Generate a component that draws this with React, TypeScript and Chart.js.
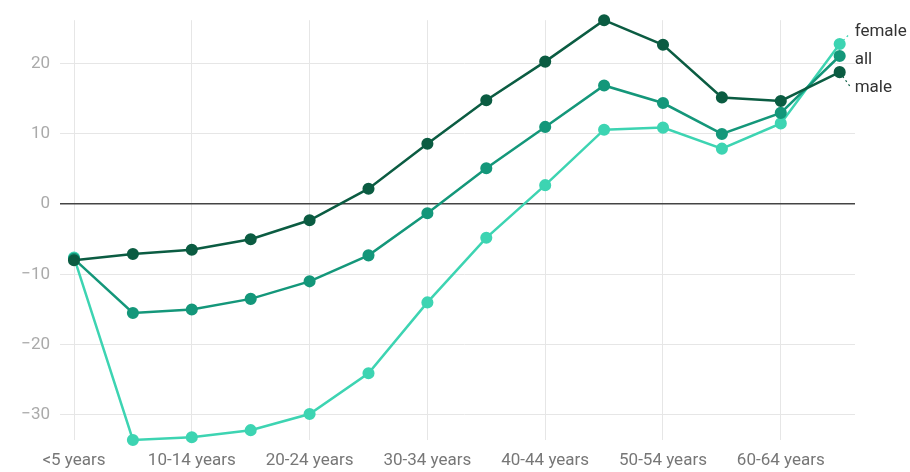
import React, { useEffect, useRef } from "react";
import { Chart, registerables } from "chart.js";

Chart.register(...registerables);

const categories = [
  "<5 years", "5-9 years", "10-14 years", "15-19 years", "20-24 years", "25-29 years",
  "30-34 years", "35-39 years", "40-44 years", "45-49 years", "50-54 years", "55-59 years",
  "60-64 years", "65+ years",
];
const maleValues = [-8.0, -7.1, -6.5, -5.0, -2.3, 2.2, 8.6, 14.8, 20.3, 26.2, 22.7, 15.2, 14.7, 18.8];
const allValues = [-7.8, -15.5, -15.0, -13.5, -11.0, -7.3, -1.3, 5.1, 11.0, 16.9, 14.4, 10.0, 13.0, 21.1];
const femaleValues = [-7.6, -33.6, -33.2, -32.2, -29.9, -24.1, -14.0, -4.8, 2.7, 10.6, 10.9, 7.9, 11.5, 22.8];
const seriesNames = ["male", "all", "female"];
const seriesColors = ["#0b5c42", "#14977a", "#3dd4b2"];
const yTickStep = 10;
const xLabelStep = 2;

const endLabels = {
  id: "endLabels",
  afterDatasetsDraw(chart: any) {
    const ctx = chart.ctx;
    const items = chart.data.datasets.map((ds: any, i: number) => {
      const meta = chart.getDatasetMeta(i);
      const pt = meta.data[meta.data.length - 1];
      return { name: ds.label, color: ds.borderColor, x: pt.x, y: pt.y, ly: pt.y };
    });
    items.sort((a: any, b: any) => a.y - b.y);
    const gap = 28;
    const mean = items.reduce((s: number, it: any) => s + it.y, 0) / items.length;
    const start = mean + 2.5 - ((items.length - 1) * gap) / 2;
    items.forEach((it: any, k: number) => {
      it.ly = start + k * gap;
    });
    ctx.save();
    ctx.font = "17px Roboto";
    ctx.fillStyle = "#333";
    ctx.textBaseline = "middle";
    ctx.textAlign = "left";
    items.forEach((it: any) => {
      if (Math.abs(it.ly - it.y) > 6) {
        ctx.save();
        ctx.strokeStyle = it.color;
        ctx.lineWidth = 1.2;
        ctx.setLineDash([2, 3]);
        ctx.beginPath();
        ctx.moveTo(it.x, it.y);
        ctx.lineTo(it.x + 10, it.ly + (it.ly < it.y ? 2 : -2));
        ctx.stroke();
        ctx.restore();
      }
      ctx.fillText(it.name, it.x + 15, it.ly);
    });
    ctx.restore();
  },
};

export default function App() {
  const ref = useRef<HTMLCanvasElement>(null);
  useEffect(() => {
    const series = [maleValues, allValues, femaleValues];
    const all = series.flat();
    const chart = new Chart(ref.current!, {
      type: "line",
      data: {
        datasets: series.map((vals, i) => ({
          label: seriesNames[i],
          data: vals.map((v, j) => ({ x: j, y: v })),
          borderColor: seriesColors[i],
          backgroundColor: seriesColors[i],
          pointBackgroundColor: seriesColors[i],
          pointBorderColor: seriesColors[i],
          borderWidth: 2.5,
          pointRadius: 4.8,
          tension: 0,
          clip: false,
        })),
      },
      options: {
        animation: false,
        responsive: false,
        maintainAspectRatio: false,
        layout: { padding: { top: 18, right: 55, left: 0, bottom: 0 } },
        plugins: { legend: { display: false }, tooltip: { enabled: false } },
        scales: {
          x: {
            type: "linear",
            min: 0,
            max: categories.length - 1 + 0.26,
            border: { display: false },
            grid: { color: "#e6e6e6", lineWidth: 1, drawTicks: false },
            afterFit: (s: any) => { s.height = 32; },
            ticks: {
              stepSize: xLabelStep,
              includeBounds: false,
              padding: 11,
              color: "#777",
              font: { family: "Roboto", size: 17 },
              maxRotation: 0,
              autoSkip: false,
              callback: (v: any) => categories[v] ?? "",
            },
          },
          y: {
            min: Math.min(...all),
            max: Math.max(...all),
            border: { display: false },
            grid: {
              tickLength: 14,
              color: (c: any) => (c.tick && c.tick.value === 0 ? "#444" : "#e6e6e6"),
              lineWidth: (c: any) => (c.tick && c.tick.value === 0 ? 1.5 : 1),
            },
            afterFit: (s: any) => { s.width = 74; },
            ticks: {
              stepSize: yTickStep,
              includeBounds: false,
              padding: 10,
              color: "#aaa",
              font: { family: "Roboto", size: 17 },
              callback: (v: any) => (v < 0 ? "\u2212" + Math.abs(v) : String(v)),
            },
          },
        },
      },
      plugins: [endLabels],
    });
    return () => chart.destroy();
  }, []);
  return (
    <div style={{ position: "fixed", left: 0, top: 0, width: 910, height: 472, background: "#fff" }}>
      <canvas ref={ref} width={910} height={472} style={{ width: 910, height: 472 }} />
    </div>
  );
}
